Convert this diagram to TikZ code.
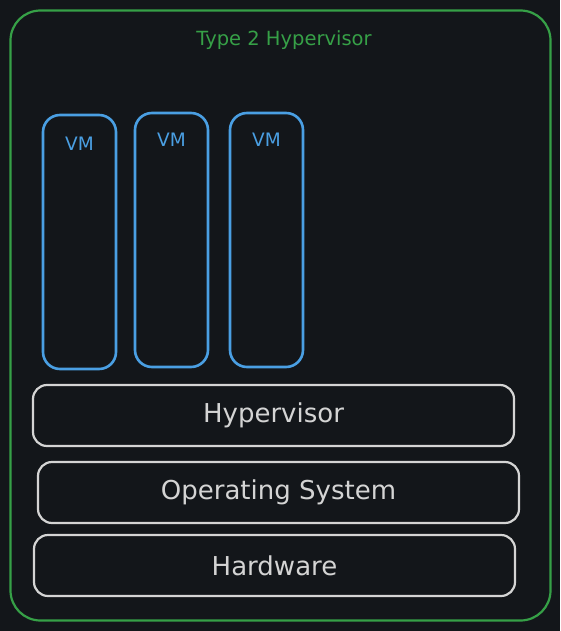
\documentclass[tikz,border=0pt]{standalone}
\usepackage{fontspec}
\setmainfont{DejaVu Sans}
\usetikzlibrary{positioning}

\definecolor{bgdark}{HTML}{13161A}
\definecolor{hvgreen}{HTML}{36A047}
\definecolor{vmblue}{HTML}{4A9FE3}
\definecolor{layergray}{HTML}{D4D4D4}

\begin{document}
\begin{tikzpicture}[x=1pt, y=-1pt,
        every node/.style = {shape=rectangle, align=center},
        frame/.style = {draw=hvgreen, line width=2.2pt, rounded corners=30pt,
          minimum width=540pt, minimum height=610pt},
        vmbox/.style = {draw=vmblue, line width=2.6pt, rounded corners=17pt,
          minimum width=73pt, minimum height=254pt},
        vmtext/.style = {text=vmblue, font=\fontsize{18.5}{22}\selectfont, inner sep=0pt},
        layer/.style = {draw=layergray, line width=2.2pt, rounded corners=14pt,
          minimum width=481pt, minimum height=61pt, text=layergray,
          font=\fontsize{26}{30}\selectfont}]
        \fill[bgdark] (0,0) rectangle (560,631);
        \useasboundingbox (0,0) rectangle (560,631);
        % outer frame
        \node[frame] (outer) at (280.5,315.5) {};
        \node[text=hvgreen, font=\fontsize{19.5}{23}\selectfont] (title) at (284,40) {Type 2 Hypervisor};
        % virtual machines
        \node[vmbox] (vm1) at (79.5,242) {};
        \node[vmbox] (vm2) at (171.5,240) {};
        \node[vmbox] (vm3) at (266.5,240) {};
        \node[vmtext, below=23pt of vm1.north] (vm1label) {VM};
        \node[vmtext, below=21pt of vm2.north] (vm2label) {VM};
        \node[vmtext, below=21pt of vm3.north] (vm3label) {VM};
        % stack
        \node[layer] (hyp) at (273.5,415.5) {Hypervisor};
        \node[layer] (os) at (278.5,492.5) {Operating System};
        \node[layer] (hw) at (274.5,565.5) {Hardware};
      \end{tikzpicture}
\end{document}
